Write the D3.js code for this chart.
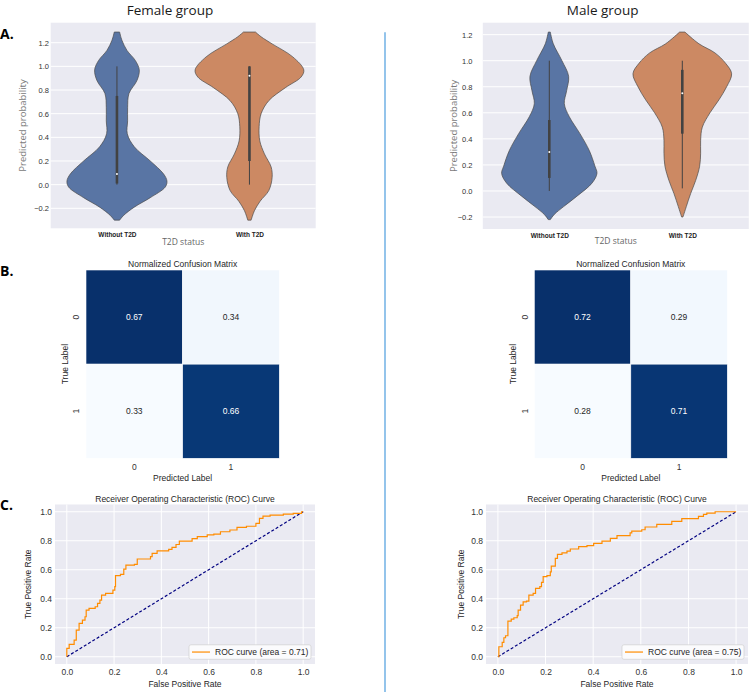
<!DOCTYPE html>
<html><head><meta charset="utf-8">
<script src="https://cdn.jsdelivr.net/npm/d3@7"></script>
<style>body{margin:0;background:#fff;} svg{display:block;}</style>
</head><body><svg id="c" width="750" height="693"></svg>
<script>
// ---------------- DATA ----------------
const groupTitles = ["Female group", "Male group"];
const panelLetters = ["A.", "B.", "C."];
const violinCategories = ["Without T2D", "With T2D"];
const violinTicks = [-0.2, 0.0, 0.2, 0.4, 0.6, 0.8, 1.0, 1.2];

// density profiles: [predicted probability, relative density]
const femaleWithoutDensity = [[-0.30,8],[-0.26,20],[-0.19,52],[-0.11,100],[-0.02,145],[0.03,150],[0.09,140],[0.20,100],[0.32,52],[0.43,31],[0.54,32],[0.65,32],[0.77,36],[0.88,60],[0.97,67],[1.05,55],[1.135,30],[1.22,15],[1.29,8]];
const femaleWithDensity = [[-0.30,5],[-0.22,15],[-0.14,32],[-0.05,58],[0.06,68],[0.15,65],[0.26,45],[0.37,31],[0.49,29],[0.60,35],[0.71,58],[0.82,108],[0.91,155],[0.97,163],[1.08,130],[1.19,68],[1.25,35],[1.29,18]];
const maleWithoutDensity = [[-0.22,3],[-0.18,15],[-0.12,43],[-0.04,83],[0.06,128],[0.135,143],[0.19,137],[0.31,120],[0.44,92],[0.57,60],[0.67,45],[0.77,52],[0.88,58],[1.0,38],[1.13,12],[1.22,3]];
const maleWithDensity = [[-0.20,2],[-0.12,12],[-0.02,25],[0.08,40],[0.19,52],[0.29,55],[0.39,55],[0.49,60],[0.60,83],[0.70,110],[0.80,133],[0.90,148],[0.98,130],[1.06,98],[1.13,50],[1.22,8]];

// box stats: [whisker low, Q1, median, Q3, whisker high]
const femaleBoxStats = [[0.0,0.01,0.09,0.75,1.0],[0.0,0.20,0.92,1.0,1.0]];
const maleBoxStats = [[0.0,0.10,0.30,0.545,1.0],[0.02,0.44,0.75,0.93,1.0]];

const cmLabels = ["0", "1"];
const femaleMatrix = [[0.67, 0.34], [0.33, 0.66]];
const maleMatrix = [[0.72, 0.29], [0.28, 0.71]];

const rocTicks = [0.0, 0.2, 0.4, 0.6, 0.8, 1.0];
const femaleRoc = [[0,0],[0,0.058],[0.01,0.085],[0.031,0.115],[0.04,0.184],[0.052,0.23],[0.066,0.253],[0.077,0.276],[0.082,0.322],[0.094,0.333],[0.12,0.345],[0.13,0.368],[0.14,0.391],[0.147,0.425],[0.164,0.437],[0.195,0.46],[0.203,0.483],[0.206,0.559],[0.227,0.568],[0.241,0.605],[0.25,0.632],[0.286,0.637],[0.298,0.674],[0.354,0.69],[0.361,0.713],[0.382,0.73],[0.431,0.74],[0.445,0.754],[0.462,0.774],[0.476,0.798],[0.53,0.814],[0.552,0.828],[0.594,0.84],[0.622,0.846],[0.65,0.862],[0.69,0.874],[0.72,0.892],[0.76,0.90],[0.80,0.92],[0.815,0.954],[0.83,0.97],[0.86,0.977],[0.916,0.984],[0.958,0.989],[0.993,1.0],[1.0,1.0]];
const maleRoc = [[0,0],[0.004,0.069],[0.018,0.099],[0.025,0.131],[0.032,0.145],[0.042,0.246],[0.056,0.26],[0.067,0.269],[0.081,0.283],[0.085,0.322],[0.095,0.356],[0.106,0.379],[0.12,0.384],[0.13,0.425],[0.148,0.437],[0.158,0.471],[0.176,0.483],[0.183,0.513],[0.19,0.552],[0.206,0.559],[0.22,0.586],[0.224,0.625],[0.241,0.678],[0.25,0.706],[0.269,0.717],[0.29,0.729],[0.304,0.743],[0.339,0.759],[0.374,0.766],[0.402,0.782],[0.437,0.798],[0.472,0.816],[0.5,0.835],[0.555,0.854],[0.562,0.867],[0.604,0.876],[0.618,0.895],[0.667,0.913],[0.73,0.934],[0.772,0.952],[0.842,0.968],[0.863,0.982],[0.877,0.991],[0.912,1.0],[1.0,1.0]];
const rocAuc = [0.71, 0.75];

// ---------------- STYLE / LAYOUT ----------------
const MPL = "'Liberation Sans', Arial, sans-serif";
const CAL = "'Open Sans', sans-serif";
const BG = "#EAEAF2";
const violinColors = ["#5975a4", "#cc8963"];

const svg = d3.select("#c");
svg.append("rect").attr("width", 750).attr("height", 693).attr("fill", "#fff");

const violinLayouts = [
  {x0: 50.7, x1: 315.7, y0: 22.7, y1: 228.3, ylim: [-0.369, 1.369], tickX: 49, ylabX: 22.7, tickLabY: 238.5, xlabY: 244.5, titleX: 170},
  {x0: 482.8, x1: 748.8, y0: 22.7, y1: 229, ylim: [-0.292, 1.292], tickX: 472.5, ylabX: 454, tickLabY: 239.5, xlabY: 243.5, titleX: 602.7}
];
const cmLayouts = [
  {x0: 86, x1: 279.3, y0: 270, y1: 458.3, tickYX: 76, ylabX: 65},
  {x0: 534.3, x1: 727.3, y0: 270, y1: 458.3, tickYX: 525, ylabX: 512.7}
];
const rocLayouts = [
  {x0: 55, x1: 315, y0: 504.5, y1: 664, ylabX: 28.3},
  {x0: 486, x1: 748, y0: 504.5, y1: 664, ylabX: 461}
];

// ---------------- VIOLINS ----------------
const widthScale = d3.scaleLinear().domain([0, 150]).range([0, 50]);

function drawViolinPanel(L, densities, boxStats, title) {
  const g = svg.append("g");
  const x = d3.scalePoint().domain(violinCategories).range([L.x0, L.x1]).padding(0.5);
  const y = d3.scaleLinear().domain(L.ylim).range([L.y1, L.y0]);
  g.append("rect").attr("x", L.x0).attr("y", L.y0).attr("width", L.x1 - L.x0).attr("height", L.y1 - L.y0).attr("fill", BG);
  g.selectAll("line.grid").data(violinTicks).join("line")
    .attr("x1", L.x0).attr("x2", L.x1).attr("y1", d => y(d)).attr("y2", d => y(d))
    .attr("stroke", "#fff").attr("stroke-width", 1);
  violinCategories.forEach((cat, i) => {
    const cx = x(cat);
    const area = d3.area()
      .y(d => y(d[0]))
      .x0(d => cx - widthScale(d[1]))
      .x1(d => cx + widthScale(d[1]))
      .curve(d3.curveCatmullRom);
    g.append("path").datum(densities[i]).attr("d", area)
      .attr("fill", violinColors[i]).attr("stroke", "#4a4a4a").attr("stroke-width", 0.7);
    const s = boxStats[i];
    g.append("line").attr("x1", cx).attr("x2", cx).attr("y1", y(s[0])).attr("y2", y(s[4]))
      .attr("stroke", "#424242").attr("stroke-width", 1);
    g.append("line").attr("x1", cx).attr("x2", cx).attr("y1", y(s[1])).attr("y2", y(s[3]))
      .attr("stroke", "#424242").attr("stroke-width", 2.6);
    g.append("circle").attr("cx", cx).attr("cy", y(s[2])).attr("r", 1).attr("fill", "#fff");
  });
  // y axis
  const ax = g.append("g").attr("transform", `translate(${L.tickX},0)`)
    .call(d3.axisLeft(y).tickValues(violinTicks).tickSize(0).tickPadding(0).tickFormat(d3.format(".1f")));
  ax.select(".domain").remove();
  ax.selectAll("text").attr("font-family", MPL).attr("font-size", 7.5).attr("fill", "#333");
  // x tick labels
  const xa = g.append("g").attr("transform", `translate(0,${L.tickLabY - 6})`)
    .call(d3.axisBottom(x).tickSize(0).tickPadding(0));
  xa.select(".domain").remove();
  xa.selectAll("text").attr("font-family", MPL).attr("font-size", 6.5).attr("font-weight", "bold").attr("fill", "#222").attr("dy", "0.71em");
  g.append("text").attr("x", (L.x0 + L.x1) / 2).attr("y", L.xlabY).attr("text-anchor", "middle")
    .attr("font-family", CAL).attr("font-size", 8.5).attr("fill", "#666").text("T2D status");
  g.append("text").attr("transform", `translate(${L.ylabX},${(L.y0 + L.y1) / 2}) rotate(-90)`)
    .attr("text-anchor", "middle").attr("dy", "0.35em")
    .attr("font-family", CAL).attr("font-size", 9.5).attr("fill", "#7a7a7a").text("Predicted probability");
  svg.append("text").attr("x", L.titleX).attr("y", 14.5).attr("text-anchor", "middle")
    .attr("font-family", CAL).attr("font-size", 13.5).attr("fill", "#1a1a1a").text(title);
}
drawViolinPanel(violinLayouts[0], [femaleWithoutDensity, femaleWithDensity], femaleBoxStats, groupTitles[0]);
drawViolinPanel(violinLayouts[1], [maleWithoutDensity, maleWithDensity], maleBoxStats, groupTitles[1]);

// ---------------- CONFUSION MATRICES ----------------
function drawCM(L, matrix) {
  const g = svg.append("g");
  const x = d3.scaleBand().domain(cmLabels).range([L.x0, L.x1]);
  const y = d3.scaleBand().domain(cmLabels).range([L.y0, L.y1]);
  const flat = matrix.flat();
  const color = d3.scaleSequential(d3.interpolateBlues).domain([d3.min(flat), d3.max(flat)]);
  const mid = (d3.min(flat) + d3.max(flat)) / 2;
  const cells = [];
  matrix.forEach((row, r) => row.forEach((v, c) => cells.push({r: cmLabels[r], c: cmLabels[c], v})));
  g.selectAll("rect").data(cells).join("rect")
    .attr("x", d => x(d.c)).attr("y", d => y(d.r)).attr("width", x.bandwidth()).attr("height", y.bandwidth())
    .attr("fill", d => color(d.v)).attr("stroke", "#fff").attr("stroke-width", 0.6);
  g.selectAll("text.val").data(cells).join("text")
    .attr("x", d => x(d.c) + x.bandwidth() / 2).attr("y", d => y(d.r) + y.bandwidth() / 2)
    .attr("dy", "0.35em").attr("text-anchor", "middle")
    .attr("font-family", MPL).attr("font-size", 8.5)
    .attr("fill", d => d.v > mid ? "#fff" : "#262626").text(d => d3.format(".2f")(d.v));
  g.append("text").attr("x", (L.x0 + L.x1) / 2).attr("y", L.y0 - 3).attr("text-anchor", "middle")
    .attr("font-family", MPL).attr("font-size", 8.5).attr("fill", "#262626").text("Normalized Confusion Matrix");
  cmLabels.forEach(lab => {
    g.append("text").attr("transform", `translate(${L.tickYX},${y(lab) + y.bandwidth() / 2}) rotate(-90)`)
      .attr("text-anchor", "middle").attr("dy", "0.35em")
      .attr("font-family", MPL).attr("font-size", 8.5).attr("fill", "#333").text(lab);
    g.append("text").attr("x", x(lab) + x.bandwidth() / 2).attr("y", L.y1 + 12)
      .attr("text-anchor", "middle").attr("font-family", MPL).attr("font-size", 8.5).attr("fill", "#333").text(lab);
  });
  g.append("text").attr("x", (L.x0 + L.x1) / 2).attr("y", L.y1 + 23).attr("text-anchor", "middle")
    .attr("font-family", MPL).attr("font-size", 8.5).attr("fill", "#262626").text("Predicted Label");
  g.append("text").attr("transform", `translate(${L.ylabX},${(L.y0 + L.y1) / 2}) rotate(-90)`)
    .attr("text-anchor", "middle").attr("dy", "0.35em")
    .attr("font-family", MPL).attr("font-size", 8.5).attr("fill", "#262626").text("True Label");
}
drawCM(cmLayouts[0], femaleMatrix);
drawCM(cmLayouts[1], maleMatrix);

// ---------------- ROC ----------------
function drawROC(L, pts, auc) {
  const g = svg.append("g");
  const x = d3.scaleLinear().domain([-0.05, 1.05]).range([L.x0, L.x1]);
  const y = d3.scaleLinear().domain([-0.05, 1.05]).range([L.y1, L.y0]);
  g.append("rect").attr("x", L.x0).attr("y", L.y0).attr("width", L.x1 - L.x0).attr("height", L.y1 - L.y0).attr("fill", BG);
  g.selectAll("line.gx").data(rocTicks).join("line").attr("class", "gx")
    .attr("x1", d => x(d)).attr("x2", d => x(d)).attr("y1", L.y0).attr("y2", L.y1)
    .attr("stroke", "#fff").attr("stroke-width", 1);
  g.selectAll("line.gy").data(rocTicks).join("line").attr("class", "gy")
    .attr("y1", d => y(d)).attr("y2", d => y(d)).attr("x1", L.x0).attr("x2", L.x1)
    .attr("stroke", "#fff").attr("stroke-width", 1);
  g.append("path").datum([[0, 0], [1, 1]])
    .attr("d", d3.line().x(d => x(d[0])).y(d => y(d[1])))
    .attr("fill", "none").attr("stroke", "#000080").attr("stroke-width", 1.2).attr("stroke-dasharray", "3,2");
  g.append("path").datum(pts)
    .attr("d", d3.line().x(d => x(d[0])).y(d => y(d[1])).curve(d3.curveStepAfter))
    .attr("fill", "none").attr("stroke", "#FF8C00").attr("stroke-width", 1.2);
  const ay = g.append("g").attr("transform", `translate(${L.x0 - 3},0)`)
    .call(d3.axisLeft(y).tickValues(rocTicks).tickSize(0).tickPadding(0).tickFormat(d3.format(".1f")));
  ay.select(".domain").remove();
  ay.selectAll("text").attr("font-family", MPL).attr("font-size", 8.5).attr("fill", "#333");
  const axb = g.append("g").attr("transform", `translate(0,${L.y1 + 5})`)
    .call(d3.axisBottom(x).tickValues(rocTicks).tickSize(0).tickPadding(0).tickFormat(d3.format(".1f")));
  axb.select(".domain").remove();
  axb.selectAll("text").attr("font-family", MPL).attr("font-size", 8.5).attr("fill", "#333");
  g.append("text").attr("x", (L.x0 + L.x1) / 2).attr("y", L.y0 - 3).attr("text-anchor", "middle")
    .attr("font-family", MPL).attr("font-size", 8.5).attr("fill", "#262626").text("Receiver Operating Characteristic (ROC) Curve");
  g.append("text").attr("x", (L.x0 + L.x1) / 2).attr("y", L.y1 + 23).attr("text-anchor", "middle")
    .attr("font-family", MPL).attr("font-size", 8.5).attr("fill", "#262626").text("False Positive Rate");
  g.append("text").attr("transform", `translate(${L.ylabX},${(L.y0 + L.y1) / 2}) rotate(-90)`)
    .attr("text-anchor", "middle").attr("dy", "0.35em")
    .attr("font-family", MPL).attr("font-size", 8.5).attr("fill", "#262626").text("True Positive Rate");
  // legend
  const lw = 122, lh = 14.5;
  const lx = L.x1 - 4 - lw, ly = L.y1 - 4.7 - lh;
  g.append("rect").attr("x", lx).attr("y", ly).attr("width", lw).attr("height", lh).attr("rx", 2)
    .attr("fill", "#fbfbfd").attr("stroke", "#d0d0d0").attr("stroke-width", 0.7);
  g.append("line").attr("x1", lx + 3).attr("x2", lx + 21).attr("y1", ly + lh / 2).attr("y2", ly + lh / 2)
    .attr("stroke", "#FF8C00").attr("stroke-width", 1.2);
  g.append("text").attr("x", lx + 26).attr("y", ly + lh / 2).attr("dy", "0.35em")
    .attr("font-family", MPL).attr("font-size", 8.5).attr("fill", "#262626")
    .text(`ROC curve (area = ${d3.format(".2f")(auc)})`);
}
drawROC(rocLayouts[0], femaleRoc, rocAuc[0]);
drawROC(rocLayouts[1], maleRoc, rocAuc[1]);

// ---------------- DIVIDER & LETTERS ----------------
svg.append("line").attr("x1", 385).attr("x2", 385).attr("y1", 32.3).attr("y2", 692)
  .attr("stroke", "#5aa5e0").attr("stroke-width", 1.3);
const letterY = [39, 276, 509.5];
panelLetters.forEach((t, i) => {
  svg.append("text").attr("x", 0).attr("y", letterY[i])
    .attr("font-family", CAL).attr("font-weight", "bold").attr("font-size", 14).attr("fill", "#000").text(t);
});
</script>
</body></html>
